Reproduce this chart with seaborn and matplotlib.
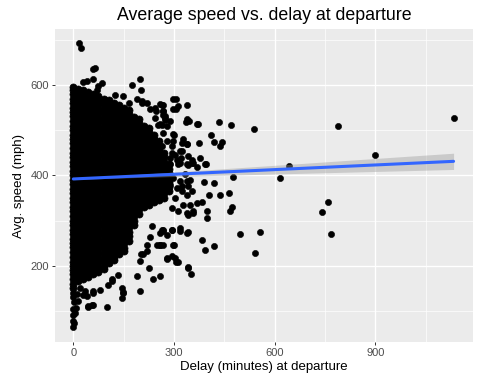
import numpy as np
import pandas as pd
import matplotlib
matplotlib.use("Agg")
import matplotlib.pyplot as plt
import seaborn as sns
from matplotlib.ticker import MultipleLocator

# ---------------- data ----------------
# dense core of the scatter: one list of speeds per delay column
blob_delay = [0, 15, 30, 45, 60, 75, 90, 105, 120, 135, 150, 165, 180, 195, 210, 225, 240, 255, 270, 285]
blob_speed = [
    [151,160,170,181,190,200,209,220,230,241,250,260,271,280,290,300,311,320,330,340,350,361,370,380,390,400,410,421,430,440,450,460,471,480,490,500,510,520,531,540,550,560,570,580,589,596],
    [165,175,186,195,205,215,224,235,245,255,266,275,285,295,305,316,325,335,345,355,366,375,385,395,405,415,426,435,445,455,465,476,485,495,505,515,525,536,545,555,565,575,585,592],
    [170,180,190,201,210,220,230,240,250,261,270,280,290,300,310,320,331,340,350,360,370,380,391,400,410,420,430,440,451,460,470,480,490,500,511,520,530,540,550,560,571,580,589],
    [176,185,195,205,215,225,235,246,255,265,275,285,295,305,315,326,335,345,355,365,375,385,396,405,415,425,435,445,455,466,475,485,495,505,515,525,535,546,555,565,575,584],
    [181,190,200,210,220,230,240,250,261,270,280,290,300,310,320,330,341,350,360,370,380,390,400,410,421,430,440,450,460,470,480,490,501,510,520,530,540,550,560,570,579],
    [186,195,205,215,225,236,245,255,265,275,285,295,305,316,325,335,345,355,365,375,385,396,405,415,425,435,445,455,465,476,485,495,505,515,525,535,545,556,565,575],
    [192,200,210,220,230,241,250,260,270,280,290,300,310,321,330,340,350,360,370,380,390,400,411,420,430,440,450,460,470,480,491,500,510,520,530,540,550,560,570],
    [205,215,225,235,246,255,265,275,285,295,305,315,326,335,345,355,365,375,385,395,405,416,425,435,445,455,465,475,485,495,506,515,525,535,545,555,566],
    [212,220,230,240,250,260,271,280,290,300,310,320,330,340,350,361,370,380,390,400,410,420,430,441,450,460,470,480,490,500,510,521,530,540,550,560],
    [225,235,245,255,266,275,285,295,305,315,325,335,346,355,365,375,385,395,405,415,425,436,445,455,465,475,485,495,505,515,526,535,545,555],
    [232,240,250,260,270,280,291,300,310,320,330,340,350,360,370,381,390,400,410,420,430,440,450,460,471,480,490,500,510,520,530,540,550],
    [255,265,275,285,296,305,315,325,335,345,355,365,375,386,395,405,415,425,435,445,455,465,476,485,495,505,515,525,535,545],
    [290,300,310,320,330,341,350,360,370,380,390,400,410,420,431,440,450,460,470,480,490,500,510,521,530],
    [315,325,335,345,355,365,376,385,395,405,415,425,435,445,455,466,475,485,495,505,515,525],
    [330,340,350,360,370,381,390,400,410,420,430,440,450,460,471,480,490,500,510],
    [335,345,355,365,375,385,396,405,415,425,435,445,455,465,475,486,495,505],
    [340,350,360,370,381,390,400,410,420,430,440,450,460,471,480,490],
    [345,355,365,376,385,395,405,415,425,435,445,455,466,475],
    [350,360,370,380,391,400,410,420,430,440,450],
    [365,375,385,396,405,415,425],
]

# scattered flights around and away from the core
out_delay = [17, 22, 58, 65, 60, 30, 40, 85, 75, 70,
             175, 199, 201, 147, 124, 165, 189, 204, 219, 206,
             242, 264, 268, 273, 288, 298, 298, 244, 253,
             306, 313, 339, 305, 267, 229, 247, 268, 273, 258,
             340, 346, 336, 368, 434, 470, 371, 539, 790, 1133,
             410, 420, 443, 437, 300, 328, 338, 373,
             323, 293, 320, 353, 378, 358, 343, 313, 393, 368, 396,
             390, 420, 475, 323, 340, 464, 437, 403, 472, 467,
             368, 398, 398, 358, 383, 343, 338,
             497, 555, 383, 418, 393, 542,
             343, 318, 293, 268, 258, 300, 258, 249,
             280, 303, 313, 342, 350, 224, 237, 258,
             199, 201, 219, 189, 199, 144, 147, 144,
             100, 55, 45, 80, 60, 40, 28, 115, 134,
             0, 0, 0, 0, 2, 5, 7, 15, 60, 45, 0, 3, 0, 10, 20,
             35, 58, 104, 115, 149, 209, 219, 234, 229, 257, 264, 279, 295,
             900, 644, 616, 760, 742, 768,
             298, 318, 333, 348, 343, 308, 288, 323, 338, 353, 303, 328, 348, 358, 313, 293,
             303, 288, 343, 338, 318, 353,
             268, 293, 318, 338, 298, 268, 278, 306, 343,
             258, 268, 273, 263, 278, 268, 298, 278, 293, 263, 298, 318, 308, 288, 273, 323, 340]
out_speed = [692, 681, 635, 638, 614, 607, 608, 605, 597, 590,
             599, 613, 588, 575, 577, 560, 568, 561, 561, 564,
             549, 555, 542, 531, 520, 568, 546, 527, 512,
             568, 554, 556, 546, 555, 546, 543, 534, 522, 513,
             524, 520, 518, 513, 517, 511, 514, 503, 510, 526,
             489, 474, 474, 464, 489, 480, 469, 472,
             454, 450, 439, 435, 438, 428, 422, 424, 424, 419, 425,
             386, 382, 396, 377, 388, 362, 356, 356, 329, 320,
             339, 322, 306, 317, 342, 313, 317,
             271, 275, 256, 243, 234, 227,
             274, 276, 280, 280, 272, 246, 245, 245,
             215, 217, 209, 197, 182, 195, 170, 178,
             211, 226, 232, 178, 145, 150, 140, 128,
             108, 114, 108, 147, 140, 132, 134, 171, 180,
             103, 91, 77, 65, 74, 95, 106, 121, 114, 110, 130, 120, 140, 138, 150,
             143, 143, 158, 167, 141, 226, 245, 287, 263, 245, 278, 269, 221,
             446, 420, 393, 342, 318, 270,
             394, 387, 402, 390, 376, 372, 379, 365, 357, 365, 350, 335, 335, 320, 320, 328,
             446, 438, 442, 424, 427, 427,
             276, 280, 283, 272, 246, 246, 217, 209, 195,
             557, 542, 527, 512, 509, 494, 491, 475, 464, 464, 475, 453, 435, 424, 413, 472, 470]

# fitted linear trend and its confidence band
fit_delay = [0, 1133]
fit_speed = [392, 431]
ci_delay = [0, 100, 200, 400, 600, 800, 1000, 1133]
ci_low = [390.5, 393.2, 395.4, 399.3, 403.0, 406.7, 410.4, 413.0]
ci_high = [393.5, 397.6, 402.4, 412.3, 422.2, 432.3, 442.4, 449.0]

x_ticks = [0, 300, 600, 900]
y_ticks = [200, 400, 600]

# ---------------- build the tables ----------------
core = pd.DataFrame([(d, s) for d, col in zip(blob_delay, blob_speed) for s in col],
                    columns=["delay", "speed"])
sparse = pd.DataFrame({"delay": out_delay, "speed": out_speed})

# ---------------- style ----------------
sns.set_theme(style="darkgrid", rc={
    "axes.facecolor": "#EBEBEB",
    "figure.facecolor": "white",
    "grid.color": "white",
})
plt.rcParams["font.family"] = ["Liberation Sans", "DejaVu Sans"]

fig = plt.figure(figsize=(4.8, 3.84), dpi=100)
ax = fig.add_axes([55 / 480, 1 - 342 / 384, (472.7 - 55) / 480, (342 - 29) / 384])

sns.scatterplot(data=core, x="delay", y="speed", color="black", s=26,
                linewidth=0.5, edgecolor="black", ax=ax, legend=False, zorder=2)
sns.scatterplot(data=sparse, x="delay", y="speed", color="black", s=20,
                linewidth=0.4, edgecolor="black", ax=ax, legend=False, zorder=2)
ax.fill_between(ci_delay, ci_low, ci_high, color="#999999", alpha=0.4,
                linewidth=0, zorder=3)
sns.lineplot(x=fit_delay, y=fit_speed, color="#3366FF", linewidth=2.2,
             ax=ax, zorder=4)

ax.set_xlim(-54.6, 1190)
ax.set_ylim(31, 724)
ax.set_xticks(x_ticks)
ax.set_yticks(y_ticks)
ax.xaxis.set_minor_locator(MultipleLocator(150))
ax.yaxis.set_minor_locator(MultipleLocator(100))
ax.set_axisbelow(True)
ax.grid(which="major", color="white", linewidth=0.95)
ax.grid(which="minor", color="white", linewidth=0.5)
for s in ax.spines.values():
    s.set_visible(False)

ax.tick_params(which="major", bottom=True, left=True, length=2.4, width=0.7,
               color="#333333", labelcolor="#4D4D4D", labelsize=8, pad=2)
ax.tick_params(which="minor", bottom=False, left=False, length=0)

ax.set_title("Average speed vs. delay at departure", fontsize=12.8, pad=6.5, color="black")
ax.set_xlabel("Delay (minutes) at departure", fontsize=9.5, labelpad=2, color="black")
ax.set_ylabel("Avg. speed (mph)", fontsize=9.5, labelpad=4, color="black")

fig.savefig("out.png", dpi=100)
